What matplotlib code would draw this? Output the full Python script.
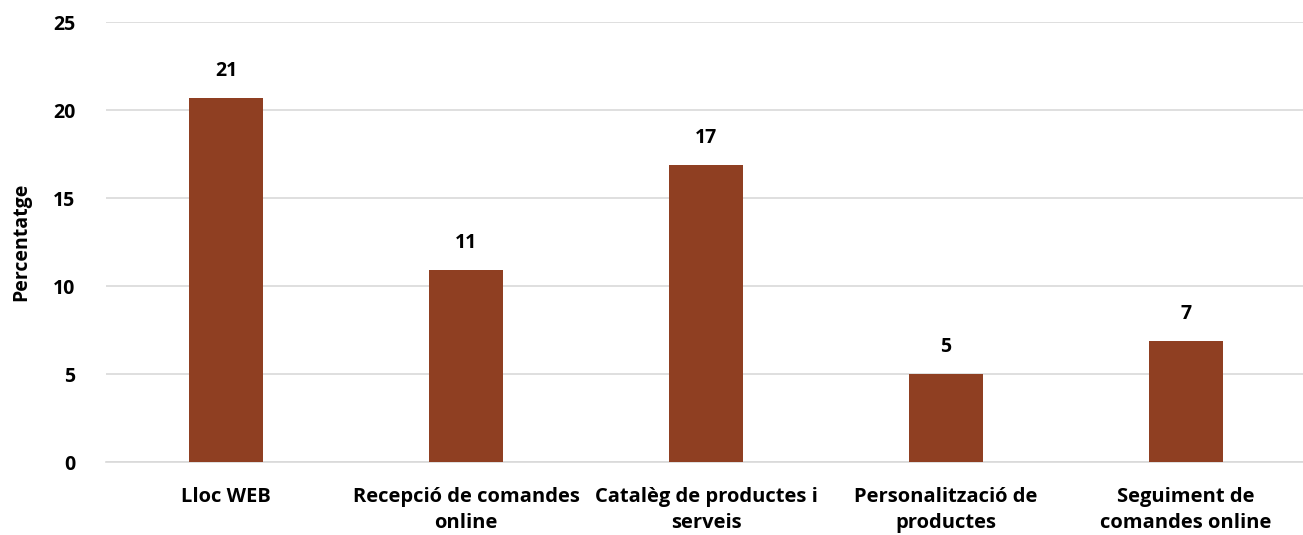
import matplotlib
matplotlib.use('Agg')
import matplotlib.pyplot as plt

plt.rcParams['font.family'] = ['Open Sans', 'DejaVu Sans']

categories = ['Lloc WEB', 'Recepció de comandes\nonline', 'Catalèg de productes i\nserveis',
              'Personalització de\nproductes', 'Seguiment de\ncomandes online']
values = [20.7, 10.9, 16.9, 5.0, 6.9]
labels = ['21', '11', '17', '5', '7']
yticks = [0, 5, 10, 15, 20, 25]

bar_color = '#8F3F22'

fig = plt.figure(figsize=(13.03, 5.35), dpi=100)
ax = fig.add_axes([0.0813, 0.1364, 0.921, 0.8224])

x = range(len(categories))
bars = ax.bar(x, values, width=0.31, color=bar_color, zorder=3)
for b, lab in zip(bars, labels):
    ax.text(b.get_x() + b.get_width() / 2, b.get_height() + 0.95, lab,
            ha='center', va='bottom', fontsize=14, fontweight='bold')

ax.set_xlim(-0.5, len(categories) - 0.5)
ax.set_ylim(0, 25)
ax.set_yticks(yticks)
ax.set_xticks(list(x))
ax.set_xticklabels(categories, fontsize=14.5, fontweight='bold', linespacing=1.4)
ax.tick_params(axis='y', labelsize=14, length=0, pad=22)
ax.tick_params(axis='x', length=0, pad=18)
for t in ax.get_yticklabels():
    t.set_fontweight('bold')

ax.grid(axis='y', color='#d9d9d9', linewidth=1.2, zorder=0)
for s in ['top', 'right', 'left']:
    ax.spines[s].set_visible(False)
ax.spines['bottom'].set_color('#d9d9d9')
ax.spines['bottom'].set_linewidth(1.2)

ax.set_ylabel('Percentatge', fontsize=14, fontweight='bold', labelpad=16)

fig.savefig('out.png', dpi=100)
